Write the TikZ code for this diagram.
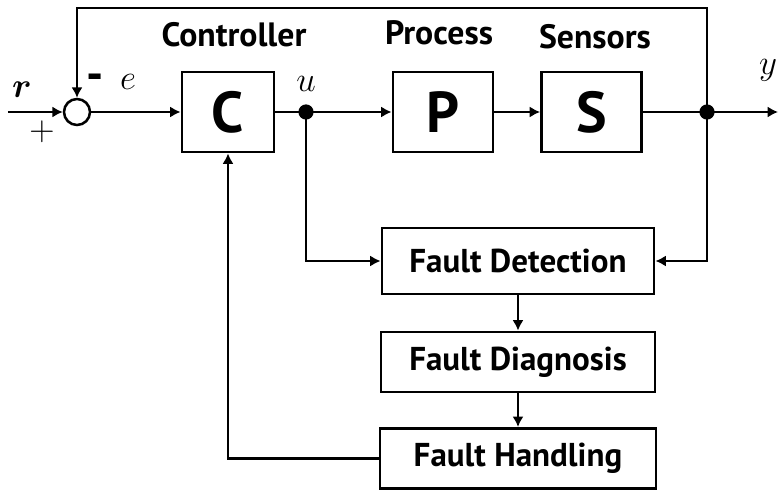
\documentclass[tikz,border=0pt]{standalone}
\usepackage{amsmath}
\usepackage{fontspec}
\setmainfont{PT Sans}
\usetikzlibrary{arrows.meta}
\tikzset{every picture/.append style={line width=2.1pt, >={Latex[length=2.6mm,width=2.8mm]}}}
\tikzset{
    block/.style={draw, rectangle, inner sep=0pt, font=\bfseries\fontsize{41}{44}\selectfont},
    fblock/.style={draw, rectangle, inner sep=0pt, minimum height=1.5cm, font=\bfseries\fontsize{23.5}{26}\selectfont},
    title/.style={font=\bfseries\fontsize{24}{28}\selectfont},
    sig/.style={font=\fontsize{24}{28}\selectfont},
    dot/.style={circle, fill, inner sep=0pt, minimum size=3.8mm}
}

\begin{document}
\begin{tikzpicture}
  \useasboundingbox (0,0) rectangle (19.45,-12.275);

  \node (in) at (0.2cm, -2.8cm) {};
  \node (sum) [circle, draw, line width=1.8pt, minimum size=6.5mm, inner sep=0pt] at (1.925cm, -2.8cm) {};
  \node (c) [block, minimum width=2.3cm, minimum height=2cm] at (5.7cm, -2.8cm) {C};
  \node (u) [dot] at (7.65cm, -2.8cm) {};
  \node (p) [block, minimum width=2.5cm, minimum height=2cm] at (11.075cm, -2.8cm) {P};
  \node (s) [block, minimum width=2.5cm, minimum height=2cm] at (14.79cm, -2.8cm) {S};
  \node (y) [dot] at (17.675cm, -2.8cm) {};
  \coordinate (out) at (19.45cm, -2.8cm);
  \coordinate (top) at (17.675cm, -0.2cm);

  \node (fd) [fblock, minimum width=6.8cm, minimum height=1.65cm] at (12.95cm, -6.525cm) {Fault Detection};
  \node (fdg) [fblock, minimum width=6.85cm] at (12.95cm, -9.05cm) {Fault Diagnosis};
  \node (fh) [fblock, minimum width=6.9cm] at (12.95cm, -11.46cm) {Fault Handling};

  \node [title] at (5.85cm, -0.875cm) {Controller};
  \node [title] at (10.975cm, -0.825cm) {Process};
  \node [title] at (14.875cm, -0.925cm) {Sensors};
  \node [sig] at (0.55cm, -2.25cm) {$\boldsymbol{r}$};
  \node [sig, font=\fontsize{28}{30}\selectfont] at (1.05cm, -3.3cm) {$+$};
  \node [title, font=\bfseries\fontsize{34}{36}\selectfont] at (2.375cm, -2.05cm) {-};
  \node [sig] at (3.2cm, -2.05cm) {$e$};
  \node [sig] at (7.65cm, -2.1cm) {$u$};
  \node [sig] at (19.2cm, -1.75cm) {$y$};

  \draw [->] (in.center) -- (sum);
  \draw [->] (sum) -- (c);
  \draw (c) -- (u.center);
  \draw [->] (u.center) -- (p);
  \draw [->] (p) -- (s);
  \draw (s) -- (y.center);
  \draw [->] (y.center) -- (out);
  \draw [->] (y.center) -- (top) -| (sum);
  \draw [->] (u.center) |- (fd);
  \draw [->] (y.center) |- (fd);
  \draw [->] (fd) -- (fdg);
  \draw [->] (fdg) -- (fh);
  \draw [->] (fh) -| (c);

\end{tikzpicture}
\end{document}
